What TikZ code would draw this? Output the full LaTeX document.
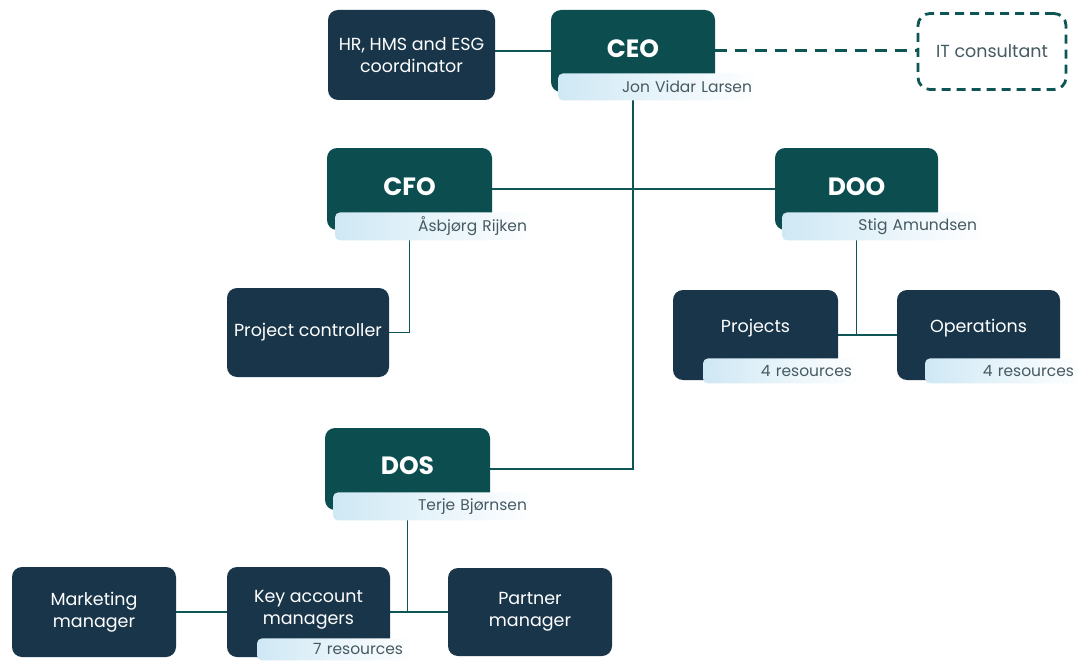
\documentclass[tikz,border=0pt]{standalone}
\usepackage{fontspec}
\setmainfont{Poppins}
\usetikzlibrary{positioning}
\definecolor{teal1}{HTML}{0C4E50}
\definecolor{navy1}{HTML}{18354A}
\definecolor{line1}{HTML}{0E5656}
\definecolor{lblue}{HTML}{CFE8F5}
\definecolor{lbltxt}{HTML}{465A62}
\pgfdeclarelayer{bg}
\pgfsetlayers{bg,main}
\tikzset{
  titlebox/.style={draw=none, fill=teal1, rounded corners=10pt, minimum width=165pt, minimum height=82pt, inner sep=0pt},
  titletxt/.style={text=white, font=\fontsize{25}{28}\selectfont\bfseries},
  unitbox/.style={draw=none, fill=navy1, rounded corners=10pt, minimum width=164pt, minimum height=90pt,
    text=white, font=\fontsize{17.5}{22}\selectfont, align=center, inner sep=0pt},
  unittxt/.style={text=white, font=\fontsize{17.5}{22}\selectfont, align=center},
  lbl/.style={left color=lblue, right color=white, draw=none, rounded corners=5pt, anchor=north west,
    text=lbltxt, font=\fontsize{15.5}{17}\selectfont, align=right, inner xsep=8pt, inner ysep=0pt},
  conn/.style={draw=line1, line width=1.8pt},
  dashconn/.style={draw=line1, line width=3pt, dash pattern=on 12pt off 8pt},
}
\begin{document}
\begin{tikzpicture}[x=1pt, y=-1pt]
\useasboundingbox (0,0) rectangle (1077,661);

% top row
\node[unitbox, minimum width=167pt] (hr) at (411.5,55) {HR, HMS and ESG\\coordinator};
\node[titlebox, minimum width=164pt] (ceo) at (633,51) {};
\node[lbl, minimum width=202pt, minimum height=27pt, text width=186pt] (ceol) at ([xshift=7pt,yshift=19pt]ceo.south west) {Jon Vidar Larsen};
\node[titletxt] (ceot) at ([yshift=2pt]ceo.center) {CEO};
\node[draw=line1, line width=2.8pt, dash pattern=on 9pt off 6pt, rounded corners=12pt, minimum width=148pt, minimum height=76pt,
  font=\fontsize{17.5}{20}\selectfont, text=lbltxt] (it) at (992,51.5) {IT consultant};

% second row
\node[titlebox] (cfo) at (409.5,189) {};
\node[lbl, minimum width=200pt, minimum height=28pt, text width=184pt] (cfol) at ([xshift=8pt,yshift=18pt]cfo.south west) {Åsbjørg Rijken};
\node[titletxt] (cfot) at ([yshift=2pt]cfo.center) {CFO};

\node[titlebox, minimum width=163pt] (doo) at (856.5,189) {};
\node[lbl, minimum width=203pt, minimum height=28pt, text width=187pt] (dool) at ([xshift=7pt,yshift=18pt]doo.south west) {Stig Amundsen};
\node[titletxt] (doot) at ([yshift=2pt]doo.center) {DOO};

% third row
\node[unitbox, minimum width=162pt, minimum height=89pt] (pc) at (308,332.5) {Project controller};

\node[unitbox, minimum width=165pt] (proj) at (755.5,335) {};
\node[lbl, minimum width=157pt, minimum height=25pt, text width=141pt] (projl) at ([xshift=30pt,yshift=22pt]proj.south west) {4 resources};
\node[unittxt] (projt) at ([yshift=7pt]proj.center) {Projects};

\node[unitbox, minimum width=163pt] (ops) at (978.5,335) {};
\node[lbl, minimum width=157pt, minimum height=25pt, text width=141pt] (opsl) at ([xshift=28pt,yshift=22pt]ops.south west) {4 resources};
\node[unittxt] (opst) at ([yshift=7pt]ops.center) {Operations};

% DOS
\node[titlebox] (dos) at (407.5,469) {};
\node[lbl, minimum width=202pt, minimum height=28pt, text width=186pt] (dosl) at ([xshift=8pt,yshift=18pt]dos.south west) {Terje Bjørnsen};
\node[titletxt] (dost) at ([yshift=3pt]dos.center) {DOS};

% bottom row
\node[unitbox] (mkt) at (94,612) {Marketing\\manager};
\node[unitbox, minimum width=163pt] (kam) at (308.5,612) {};
\node[lbl, minimum width=157pt, minimum height=22pt, text width=135pt, inner xsep=11pt] (kaml) at ([xshift=30pt,yshift=19pt]kam.south west) {7 resources};
\node[unittxt] (kamt) at ([yshift=2pt]kam.center) {Key account\\managers};
\node[unitbox, minimum height=88pt] (partner) at (530,612) {Partner\\manager};

% connectors
\begin{pgfonlayer}{bg}
\fill[white] (0,0) rectangle (1077,661);
\draw[conn] (ceo.west) -- (ceo.west -| hr.east);
\draw[dashconn] (ceo.east) -- (ceo.east -| it.west);
\draw[conn] (ceo.south) |- (dos.east);
\draw[conn] (cfo.east) -- (doo.west);
\draw[conn] (cfo.south) |- (pc.east);
\draw[conn] (proj.east) -- (ops.west);
\draw[conn] (doo.south) -- (doo.south |- proj.east);
\draw[conn] (mkt.east) -- (kam.west);
\draw[conn] (kam.east) -- (partner.west);
\draw[conn] (dos.south) -- (dos.south |- kam.east);
\end{pgfonlayer}
\end{tikzpicture}
\end{document}
